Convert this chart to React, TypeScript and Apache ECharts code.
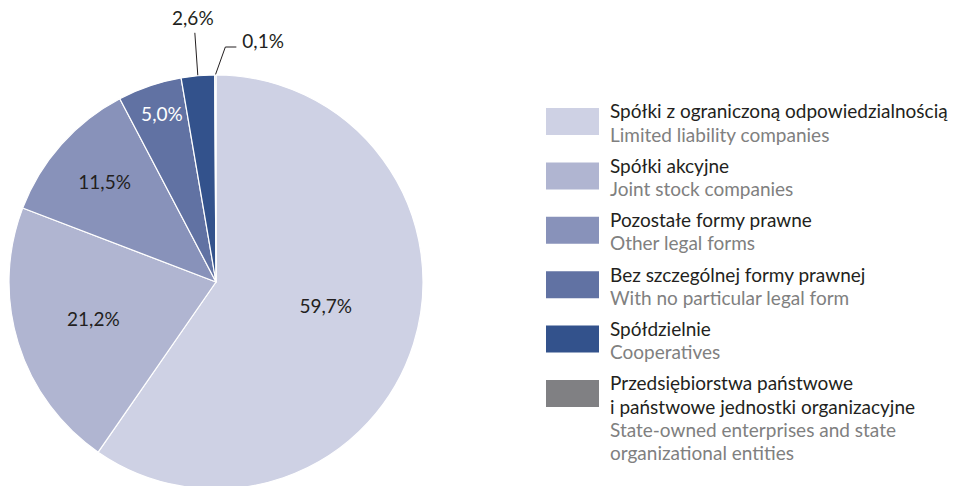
import React, { useEffect, useRef } from "react";
import * as echarts from "echarts";

const namesPL = [
  "Spółki z ograniczoną odpowiedzialnością",
  "Spółki akcyjne",
  "Pozostałe formy prawne",
  "Bez szczególnej formy prawnej",
  "Spółdzielnie",
  "Przedsiębiorstwa państwowe\ni państwowe jednostki organizacyjne",
];
const namesEN = [
  "Limited liability companies",
  "Joint stock companies",
  "Other legal forms",
  "With no particular legal form",
  "Cooperatives",
  "State-owned enterprises and state\norganizational entities",
];
const shares = [59.7, 21.2, 11.5, 5.0, 2.6, 0.1];
const colors = ["#ced1e4", "#b0b5d1", "#8892ba", "#6172a3", "#33528c", "#808083"];
const labelColors = ["#231f20", "#231f20", "#231f20", "#ffffff", "#231f20", "#231f20"];

const FONT = "Lato, 'Open Sans', sans-serif";
const FS = 19;
const CX = 216;
const CY = 282;
const R = 207;
const insideRadiusFrac = [0.54, 0.62, 0.72, 0.86];
const insideNudge = [
  [3, -10],
  [0, -1],
  [0, -1],
  [3, 0],
];

const fmt = (v: number) => v.toFixed(1).replace(".", ",") + "%";

export default function App() {
  const ref = useRef<HTMLDivElement>(null);
  useEffect(() => {
    if (!ref.current) return;
    const chart = echarts.init(ref.current, undefined, { renderer: "svg" });
    const total = shares.reduce((a, b) => a + b, 0);
    const cum: number[] = [];
    shares.reduce((acc, v, i) => {
      cum[i] = acc;
      return acc + v;
    }, 0);
    const midAngle = (i: number) => ((cum[i] + shares[i] / 2) / total) * Math.PI * 2;

    // legend built from arrays
    const legendEls: any[] = [];
    const top0 = 108;
    const step = 54.4;
    const lineH = 23.2;
    namesPL.forEach((pl, i) => {
      const top = top0 + i * step;
      legendEls.push({
        type: "rect",
        shape: { x: 546, y: top, width: 53, height: 27 },
        style: { fill: colors[i] },
      });
      const lines = [
        ...pl.split("\n").map((t) => `{pl|${t}}`),
        ...namesEN[i].split("\n").map((t) => `{en|${t}}`),
      ];
      legendEls.push({
        type: "text",
        x: 610,
        y: top + 3 - lineH / 2,
        style: {
          text: lines.join("\n"),
          align: "left",
          verticalAlign: "top",
          font: `${FS}px ${FONT}`,
          lineHeight: lineH,
          rich: {
            pl: { fill: "#231f20", fontFamily: FONT, fontSize: FS, lineHeight: lineH },
            en: { fill: "#808080", fontFamily: FONT, fontSize: FS, lineHeight: lineH },
          },
        },
      });
    });

    chart.setOption({
      animation: false,
      backgroundColor: "#ffffff",
      series: [
        {
          type: "pie",
          center: [CX, CY],
          radius: R,
          startAngle: 90,
          clockwise: true,
          avoidLabelOverlap: false,
          minShowLabelAngle: 0,
          itemStyle: { borderColor: "#ffffff", borderWidth: 1.2 },
          label: {
            show: true,
            position: "inside",
            fontFamily: FONT,
            fontSize: FS,
            formatter: (p: any) => fmt(p.value),
          },
          labelLine: { show: false, lineStyle: { color: "#231f20", width: 1 } },
          emphasis: { disabled: true },
          data: shares.map((v, i) => ({
            value: v,
            name: namesPL[i],
            itemStyle: { color: colors[i] },
            label: { color: labelColors[i], position: i >= 4 ? "outside" : "inside" },
            labelLine: { show: i >= 4, length: 10, length2: 10 },
          })),
          labelLayout: (params: any) => {
            const i = params.dataIndex;
            const a = midAngle(i);
            const s = Math.sin(a);
            const c = Math.cos(a);
            if (i < 4) {
              const r = insideRadiusFrac[i] * R;
              return {
                x: CX + r * s + insideNudge[i][0],
                y: CY - r * c + insideNudge[i][1],
                align: "center",
                verticalAlign: "middle",
              };
            }
            const sx = CX + R * s;
            const sy = CY - R * c;
            if (i === 4) {
              return {
                x: sx - 5,
                y: sy - 58,
                align: "center",
                verticalAlign: "middle",
                labelLinePoints: [
                  [sx, sy],
                  [sx - 3, sy - 43],
                  [sx - 3, sy - 43],
                ],
              };
            }
            return {
              x: sx + 27,
              y: sy - 35,
              align: "left",
              verticalAlign: "middle",
              labelLinePoints: [
                [sx, sy],
                [sx + 10, sy - 28],
                [sx + 21, sy - 28],
              ],
            };
          },
        },
      ],
      graphic: legendEls,
    });
    return () => chart.dispose();
  }, []);
  return (
    <div
      ref={ref}
      style={{ position: "fixed", left: 0, top: 0, width: 980, height: 486, background: "#fff" }}
    />
  );
}
